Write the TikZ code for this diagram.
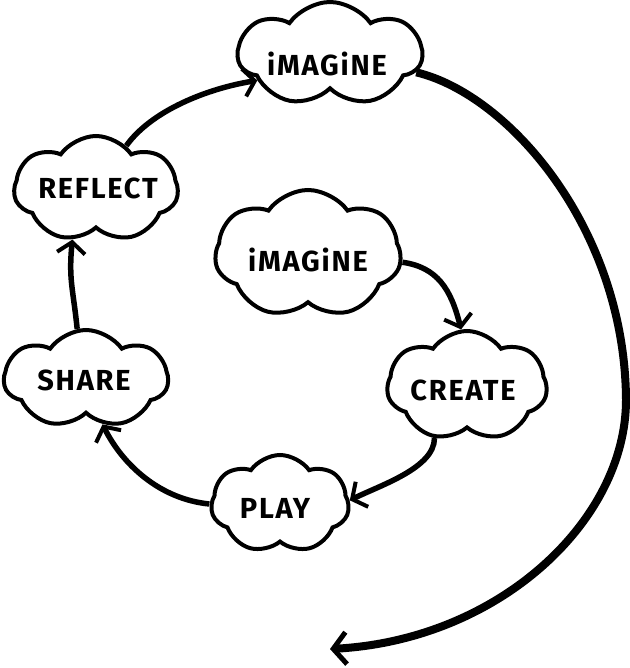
\documentclass[tikz,border=0pt]{standalone}
\usepackage{fontspec}
\setmainfont{Fira Sans}[LetterSpace=6]
\usetikzlibrary{shapes.symbols,arrows.meta}
\begin{document}
\begin{tikzpicture}[x=1pt,y=-1pt,
  cloudbox/.style={cloud, cloud puffs=7, cloud puff arc=110, cloud ignores aspect,
    draw=black, line width=4pt, fill=white, inner sep=0pt},
  lbl/.style={font=\bfseries\fontsize{29}{33}\selectfont, inner sep=0pt},
  flow/.style={line width=5.5pt, -{Straight Barb[length=11pt,width=28pt,line width=4pt]}},
  bigflow/.style={line width=8pt, -{Straight Barb[length=13pt,width=32pt,line width=5pt]}}
]
\useasboundingbox (0,0) rectangle (629,668);
% clouds
\node[cloudbox, minimum width=184pt, minimum height=104pt] (top) at (330,54) {};
\node[cloudbox, minimum width=164pt, minimum height=106pt] (reflect) at (96,189) {};
\node[cloudbox, minimum width=164pt, minimum height=98pt] (share) at (86,379) {};
\node[cloudbox, minimum width=138pt, minimum height=98pt] (play) at (280,504) {};
\node[cloudbox, minimum width=160pt, minimum height=110pt] (create) at (467,386) {};
\node[cloudbox, minimum width=186pt, minimum height=128pt] (inner) at (308,254) {};
% labels
\node[lbl] (toptext) at (327,64) {iMAGiNE};
\node[lbl] (reflecttext) at (98,188) {REFLECT};
\node[lbl] (sharetext) at (84,380) {SHARE};
\node[lbl] (playtext) at (275,508) {PLAY};
\node[lbl] (createtext) at (463,390) {CREATE};
\node[lbl] (innertext) at (308,260) {iMAGiNE};
% connectors
\draw[flow] (reflect.55) .. controls +(25,-35) and +(-50,8) .. (top.200);
\draw[flow] (share.100) .. controls +(-4,-40) and +(-4,40) .. (reflect.245);
\draw[flow] (play.180) .. controls +(-50,-5) and +(20,40) .. (share.290);
\draw[flow] (create.238) .. controls +(0,30) and +(30,-15) .. (play.3);
\draw[flow] (inner.355) .. controls +(35,5) and +(-10,-40) .. (create.96);
\coordinate (bend) at (626,400);
\coordinate (bigend) at (330,649);
\draw[bigflow] (top.348) .. controls (510,95) and (625,230) .. (bend)
   .. controls (626,520) and (500,640) .. (bigend);
\end{tikzpicture}
\end{document}
